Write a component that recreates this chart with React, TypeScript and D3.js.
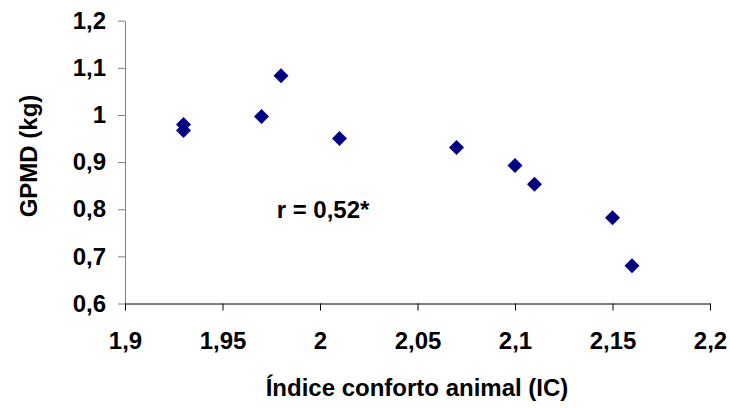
import * as d3 from "d3";
import { FC, useEffect, useRef } from "react";

const IC: number[] = [1.93, 1.93, 1.97, 1.98, 2.01, 2.07, 2.1, 2.11, 2.15, 2.16];
const GPMD: number[] = [0.98, 0.967, 0.997, 1.083, 0.95, 0.931, 0.893, 0.853, 0.782, 0.68];
const X_TICKS: number[] = [1.9, 1.95, 2, 2.05, 2.1, 2.15, 2.2];
const Y_TICKS: number[] = [0.6, 0.7, 0.8, 0.9, 1, 1.1, 1.2];

const W = 730;
const H = 408;
const FONT = "'Liberation Sans', Arial, sans-serif";
const FS = 24;

const fmt = (v: number) => String(+v.toFixed(2)).replace(".", ",");

const App: FC = () => {
  const ref = useRef<SVGSVGElement | null>(null);

  useEffect(() => {
    if (!ref.current) return;
    const svg = d3.select(ref.current);
    svg.selectAll("*").remove();

    const x = d3.scaleLinear().domain([1.9, 2.2]).range([125, 710]);
    const y = d3.scaleLinear().domain([0.6, 1.2]).range([303.5, 20.7]);

    // y axis
    const gy = svg
      .append("g")
      .attr("transform", `translate(${x(1.9)},0)`)
      .call(
        d3
          .axisLeft(y)
          .tickValues(Y_TICKS)
          .tickSize(7)
          .tickSizeOuter(0)
          .tickPadding(12)
          .tickFormat((d) => fmt(d as number))
      );
    gy.select(".domain").attr("stroke", "#808080");
    gy.selectAll(".tick line").attr("stroke", "#808080");
    gy.selectAll("text")
      .attr("font-family", FONT)
      .attr("font-weight", "bold")
      .attr("font-size", FS)
      .attr("fill", "#000");

    // x axis
    const gx = svg
      .append("g")
      .attr("transform", `translate(0,${y(0.6)})`)
      .call(
        d3
          .axisBottom(x)
          .tickValues(X_TICKS)
          .tickSize(7)
          .tickSizeOuter(0)
          .tickPadding(21)
          .tickFormat((d) => fmt(d as number))
      );
    gx.select(".domain").attr("stroke", "#000");
    gx.selectAll(".tick line").attr("stroke", "#000");
    gx.selectAll("text")
      .attr("font-family", FONT)
      .attr("font-weight", "bold")
      .attr("font-size", FS)
      .attr("fill", "#000");

    // markers
    const r = 7.5;
    svg
      .append("g")
      .selectAll("path")
      .data(IC.map((v, i) => [v, GPMD[i]]))
      .enter()
      .append("path")
      .attr(
        "d",
        (d) =>
          `M${x(d[0])},${y(d[1]) - r}L${x(d[0]) + r},${y(d[1])}L${x(d[0])},${y(d[1]) + r}L${x(d[0]) - r},${y(d[1])}Z`
      )
      .attr("fill", "#000080");

    svg
      .append("text")
      .attr("x", 323)
      .attr("y", 218)
      .attr("text-anchor", "middle")
      .attr("font-family", FONT)
      .attr("font-weight", "bold")
      .attr("font-size", FS)
      .text("r = 0,52*");

    svg
      .append("text")
      .attr("x", 417)
      .attr("y", 396)
      .attr("text-anchor", "middle")
      .attr("font-family", FONT)
      .attr("font-weight", "bold")
      .attr("font-size", FS)
      .text("Índice conforto animal (IC)");

    svg
      .append("text")
      .attr("transform", `translate(37,156) rotate(-90)`)
      .attr("text-anchor", "middle")
      .attr("font-family", FONT)
      .attr("font-weight", "bold")
      .attr("font-size", FS)
      .text("GPMD (kg)");
  }, []);

  return (
    <svg
      ref={ref}
      width={W}
      height={H}
      style={{ position: "absolute", left: 0, top: 0, background: "#fff" }}
    />
  );
};

export default App;
